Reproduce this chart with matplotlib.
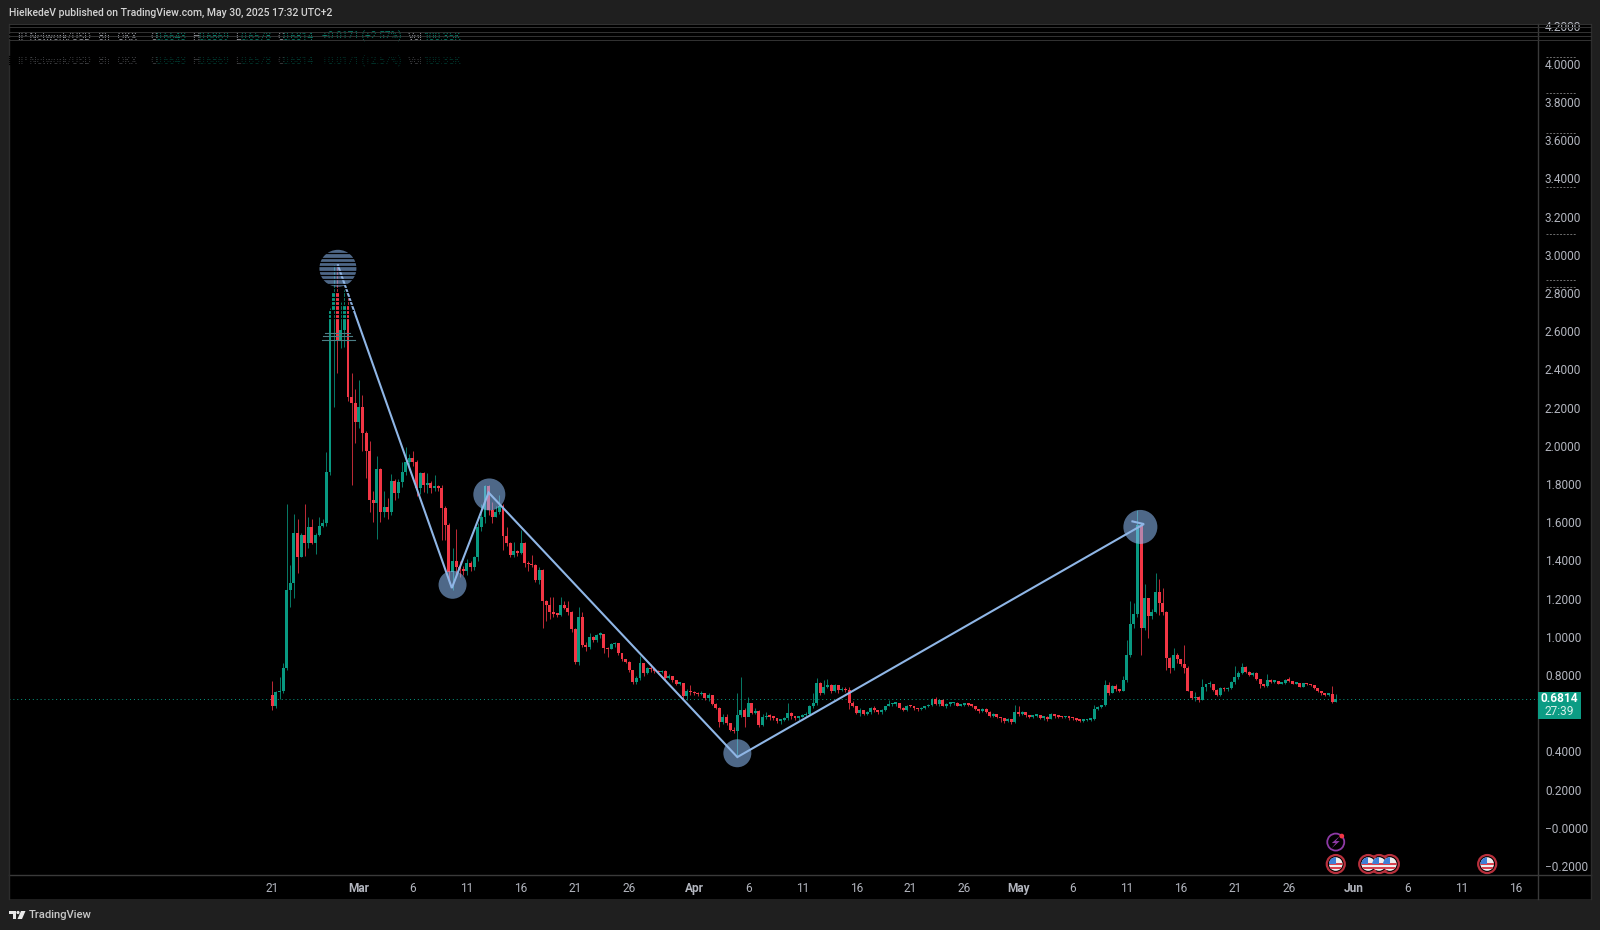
import matplotlib
matplotlib.use("Agg")
import matplotlib.pyplot as plt
from matplotlib.patches import Rectangle, Circle, Polygon
from matplotlib.transforms import Affine2D, IdentityTransform, ScaledTranslation

plt.rcParams['font.family'] = ['Roboto', 'DejaVu Sans']

W, H = 1600, 930
BG = '#1f1f1f'
GREEN = '#089981'
RED = '#f23645'
LINE = '#90bff9'
GRID = '#3a3a3a'
LABEL = '#b2b5be'

# 8h candles, first one is Feb 21
first_open = 0.70
closes = [
    .642, .714, .72, .84, 1.25, 1.285, 1.55, 1.425, 1.537, 1.495,
    1.58, 1.497, 1.537, 1.585, 1.60, 1.87, 2.71, 2.81, 2.56, 2.61,
    2.74, 2.26, 2.23, 2.13, 2.21, 2.07, 1.98, 1.72, 1.705, 1.883,
    1.66, 1.686, 1.66, 1.822, 1.757, 1.817, 1.87, 1.92, 1.94, 1.92,
    1.784, 1.862, 1.80, 1.81, 1.785, 1.795, 1.785, 1.68, 1.59, 1.345,
    1.40, 1.37, 1.36, 1.35, 1.39, 1.37, 1.42, 1.58, 1.634, 1.795,
    1.668, 1.634, 1.66, 1.69, 1.53, 1.495, 1.433, 1.455, 1.445, 1.497,
    1.39, 1.385, 1.38, 1.30, 1.354, 1.19, 1.17, 1.135, 1.125, 1.12,
    1.17, 1.157, 1.135, 1.045, .874, 1.11, .962, .95, 1.003, .99,
    1.015, 1.02, .945, .94, .966, .97, .918, .887, .875, .831,
    .77, .788, .869, .814, .84, .835, .825, .82, .825, .788,
    .80, .78, .76, .765, .695, .722, .715, .71, .705, .71,
    .684, .70, .653, .63, .56, .586, .555, .517, .51, .595,
    .62, .586, .657, .607, .615, .543, .584, .59, .585, .58,
    .565, .57, .58, .605, .59, .58, .585, .595, .60, .64,
    .657, .765, .71, .744, .75, .722, .75, .725, .73, .725,
    .66, .64, .607, .62, .60, .61, .63, .62, .61, .62,
    .642, .652, .655, .657, .63, .62, .645, .64, .63, .625,
    .63, .64, .65, .68, .652, .675, .645, .655, .657, .66,
    .645, .65, .652, .65, .645, .625, .615, .625, .61, .59,
    .60, .585, .578, .565, .575, .56, .613, .60, .61, .595,
    .585, .59, .595, .58, .582, .575, .60, .59, .585, .583,
    .585, .58, .578, .57, .565, .567, .57, .572, .626, .635,
    .648, .752, .71, .747, .73, .722, .779, .909, 1.072, 1.124,
    1.59, 1.05, 1.207, 1.113, 1.136, 1.24, 1.18, 1.136, .893, .84,
    .909, .887, .862, .84, .722, .684, .69, .675, .744, .755,
    .76, .726, .70, .735, .73, .735, .768, .793, .817, .848,
    .822, .805, .815, .784, .757, .745, .779, .77, .772, .76,
    .765, .78, .775, .76, .762, .742, .762, .755, .75, .735,
    .72, .71, .70, .705, .665, .6814,
]
highs = [
    .775, .72, .796, .87, 1.70, 1.38, 1.65, 1.62, 1.55, 1.70,
    1.63, 1.62, 1.55, 1.63, 1.62, 1.974, 2.726, 2.95, 2.95, 2.76,
    2.82, 2.78, 2.385, 2.30, 2.35, 2.27, 2.08, 2.03, 1.77, 1.95,
    1.89, 1.77, 1.73, 1.857, 1.83, 1.83, 1.92, 2.0, 1.96, 1.98,
    1.93, 1.87, 1.87, 1.86, 1.82, 1.85, 1.80, 1.80, 1.69, 1.60,
    1.47, 1.57, 1.40, 1.375, 1.41, 1.40, 1.43, 1.60, 1.70, 1.80,
    1.80, 1.71, 1.69, 1.747, 1.70, 1.58, 1.50, 1.50, 1.46, 1.564,
    1.50, 1.40, 1.433, 1.385, 1.37, 1.36, 1.20, 1.215, 1.215, 1.13,
    1.215, 1.19, 1.19, 1.14, 1.05, 1.162, 1.137, .98, 1.024, 1.01,
    1.02, 1.03, 1.02, .95, .97, .98, .96, .92, .89, .88,
    .83, .80, .904, .87, .845, .86, .84, .83, .83, .83,
    .81, .80, .78, .77, .765, .73, .752, .72, .715, .72,
    .71, .71, .70, .66, .635, .60, .60, .555, .53, .71,
    .795, .63, .69, .66, .63, .62, .60, .61, .60, .59,
    .58, .575, .585, .66, .61, .59, .59, .60, .61, .65,
    .71, .788, .77, .78, .785, .76, .76, .75, .74, .74,
    .743, .67, .64, .63, .62, .615, .635, .645, .62, .625,
    .645, .675, .66, .66, .66, .635, .65, .65, .64, .63,
    .635, .645, .655, .685, .69, .68, .68, .66, .66, .665,
    .665, .655, .655, .655, .65, .645, .625, .63, .63, .615,
    .605, .60, .585, .58, .58, .575, .648, .64, .615, .61,
    .595, .595, .60, .595, .585, .59, .605, .60, .59, .59,
    .59, .585, .585, .58, .57, .57, .575, .58, .648, .64,
    .65, .778, .77, .75, .755, .73, .80, .988, 1.19, 1.18,
    1.67, 1.60, 1.28, 1.21, 1.15, 1.337, 1.306, 1.26, 1.14, .90,
    .945, .92, .88, .961, .85, .72, .717, .695, .784, .76,
    .775, .76, .73, .74, .74, .74, .775, .852, .825, .867,
    .85, .825, .82, .82, .785, .76, .81, .785, .78, .775,
    .77, .785, .795, .775, .77, .765, .765, .765, .76, .745,
    .735, .715, .71, .71, .745, .705,
]
lows = [
    .62, .63, .68, .71, .83, 1.16, 1.21, 1.34, 1.42, 1.43,
    1.47, 1.49, 1.44, 1.53, 1.58, 1.585, 1.85, 2.21, 2.385, 2.516,
    2.52, 2.24, 1.80, 2.02, 2.10, 1.98, 1.836, 1.66, 1.607, 1.517,
    1.607, 1.633, 1.62, 1.64, 1.72, 1.73, 1.79, 1.85, 1.88, 1.90,
    1.74, 1.75, 1.765, 1.76, 1.76, 1.77, 1.77, 1.51, 1.51, 1.285,
    1.25, 1.32, 1.32, 1.33, 1.33, 1.35, 1.355, 1.40, 1.56, 1.60,
    1.64, 1.60, 1.63, 1.65, 1.46, 1.48, 1.42, 1.42, 1.43, 1.44,
    1.37, 1.35, 1.37, 1.29, 1.28, 1.05, 1.085, 1.10, 1.11, 1.11,
    1.115, 1.15, 1.12, 1.03, .86, .857, .95, .93, .94, .98,
    .98, 1.0, .92, .90, .94, .95, .91, .88, .865, .82,
    .76, .76, .78, .80, .81, .82, .815, .81, .815, .78,
    .785, .77, .75, .75, .68, .675, .70, .70, .695, .70,
    .675, .67, .65, .625, .534, .55, .545, .51, .50, .377,
    .585, .53, .60, .60, .60, .53, .54, .575, .57, .57,
    .555, .55, .565, .57, .575, .57, .57, .585, .59, .595,
    .63, .65, .70, .705, .735, .71, .715, .71, .72, .715,
    .625, .635, .60, .59, .595, .595, .60, .61, .60, .60,
    .615, .64, .645, .645, .625, .615, .615, .635, .62, .615,
    .62, .625, .635, .64, .65, .645, .64, .63, .645, .65,
    .64, .64, .645, .645, .635, .62, .605, .61, .605, .585,
    .585, .58, .56, .555, .56, .55, .555, .59, .595, .585,
    .58, .58, .585, .575, .57, .565, .575, .58, .58, .58,
    .58, .57, .57, .565, .56, .56, .565, .565, .57, .62,
    .63, .645, .70, .71, .72, .715, .72, .77, .90, 1.05,
    1.11, .909, 1.04, .997, 1.10, 1.13, 1.12, 1.12, .83, .814,
    .83, .87, .85, .814, .72, .68, .67, .665, .675, .72,
    .74, .72, .695, .695, .72, .72, .73, .76, .785, .81,
    .815, .80, .80, .78, .736, .74, .74, .765, .765, .755,
    .755, .76, .77, .755, .755, .74, .74, .75, .745, .73,
    .715, .70, .695, .695, .66, .665,
]

# hand drawn zigzag on the chart (candle number, price)
zigzag_idx = [18.2, 49.8, 60, 129, 241.8, 238.6]
zigzag_price = [2.95, 1.26, 1.76, 0.375, 1.595, 1.609]
circle_idx = [18.2, 50, 60.2, 129, 240.8]
circle_price = [2.934, 1.277, 1.75, 0.395, 1.58]
circle_radius = [18.5, 14, 16, 14, 17]

# x tick positions are days after Feb 21
tick_days = [0, 8, 13, 18, 23, 28, 33, 39, 44, 49, 54, 59, 64, 69, 74, 79, 84, 89, 94, 100, 105, 110, 115]
tick_names = ['21', 'Mar', '6', '11', '16', '21', '26', 'Apr', '6', '11', '16', '21', '26',
              'May', '6', '11', '16', '21', '26', 'Jun', '6', '11', '16']
price_ticks = [4.2, 4.0, 3.8, 3.6, 3.4, 3.2, 3.0, 2.8, 2.6, 2.4, 2.2, 2.0, 1.8, 1.6, 1.4, 1.2, 1.0, 0.8, 0.6, 0.4, 0.2, 0.0, -0.2]
hidden_ticks = [0.6]  # covered by the price tag

last_price = 0.6814
flag_idx = [337, 310, 307, 304, 295]
event_price = -0.185
bolt_idx = 295
bolt_price = -0.07

legend_pieces = [
    ('IP Network/USD · 8h · OKX', 18, LABEL), ('O', 150, LABEL), ('0.6643', 155, GREEN),
    ('H', 192, LABEL), ('0.6869', 198, GREEN), ('L', 235, LABEL), ('0.6578', 240, GREEN),
    ('C', 277, LABEL), ('0.6814', 282, GREEN), ('+0.0171 (+2.57%)', 322, GREEN),
    ('Vol', 408, LABEL), ('100.35K', 423, GREEN),
]

fig = plt.figure(figsize=(W / 100, H / 100), dpi=100, facecolor=BG)
px = Affine2D().scale(1 / W, -1 / H).translate(0, 1) + fig.transFigure


def add_rect(x0, y0, x1, y1, color, z=0):
    fig.add_artist(Rectangle((x0, y0), x1 - x0, y1 - y0, transform=px, facecolor=color, edgecolor='none', zorder=z))


def add_line(x0, y0, x1, y1, color, lw=1, z=5, **kw):
    fig.add_artist(plt.Line2D([x0, x1], [y0, y1], transform=px, color=color, lw=lw, zorder=z, **kw))


def add_text(x, y, s, color=LABEL, size=8.5, **kw):
    kw.setdefault('va', 'center')
    fig.text(x / W, 1 - y / H, s, color=color, fontsize=size, **kw)


add_rect(9, 24, 1591, 899, 'black', -1)

ax = fig.add_axes([9 / W, 1 - 875 / H, (1538 - 9) / W, (875 - 24) / H])
ax.set_facecolor('black')
ax.set_xlim(-73.04, 351.1)
ax.set_ylim(-0.2424, 4.2131)
for s in ax.spines.values():
    s.set_visible(False)

opens = [first_open] + closes[:-1]
idx = list(range(len(closes)))
colors = [GREEN if c >= o else RED for o, c in zip(opens, closes)]
ax.vlines(idx, lows, highs, colors=colors, lw=0.7, alpha=0.8, zorder=2)
ax.bar(idx, [max(abs(c - o), 0.008) for o, c in zip(opens, closes)],
       bottom=[min(o, c) for o, c in zip(opens, closes)], width=0.82, color=colors, linewidth=0, zorder=3)

ax.axhline(last_price, color=GREEN, lw=0.7, ls=(0, (1, 3)), zorder=1)

# blobs sit on top of the candles, the line on top of those
ax.scatter(circle_idx, circle_price, s=[(2 * r * 0.72) ** 2 for r in circle_radius],
           color=LINE, alpha=0.55, linewidths=0, zorder=4)
ax.plot(zigzag_idx, zigzag_price, color='#8fb6e6', lw=1.5, zorder=5, solid_joinstyle='miter')

ax.yaxis.tick_right()
shown = [p for p in price_ticks if p not in hidden_ticks]
ax.set_yticks(shown)
ax.set_yticklabels([f'{p:.4f}' if p > 0 else f'\u2212{abs(p):.4f}' for p in shown])
ax.tick_params(axis='y', length=0, pad=5, labelcolor=LABEL, labelsize=8.6)
up_1px = ScaledTranslation(0, 1 / 100, fig.dpi_scale_trans)
for lab in ax.get_yticklabels():
    lab.set_transform(lab.get_transform() + up_1px)
ax.set_xticks([d * 3 for d in tick_days])
ax.set_xticklabels(tick_names)
ax.tick_params(axis='x', length=0, pad=5, labelcolor=LABEL, labelsize=8.6)
for lab in ax.get_xticklabels():
    if lab.get_text() in ('Mar', 'Apr', 'May', 'Jun'):
        lab.set_fontweight('bold')

# axis frame
add_line(1538, 24, 1538, 899, GRID)
add_line(9, 875, 1591, 875, GRID)
add_line(9, 24, 9, 899, '#2c2c2c')
add_line(1591, 24, 1591, 899, '#2c2c2c')

# scan line damage along the top of the picture
for y in [24.5, 27, 32, 36, 40.5]:
    add_line(9, y, 1591, y, '#333333', lw=0.7, z=6)
for y in [57, 93, 133, 187, 234, 280, 287]:
    add_line(1546, y, 1576, y, '#6f6f6f', lw=0.7, z=6, ls=(0, (2, 1.5)))

# same damage over the first peak
y = 253.3
while y < 320:
    half = 19 if y < 287 else 15
    add_line(337.7 - half, y, 337.7 + half, y, 'black', lw=0.9, z=7)
    y += 4.33
for y, x0, x1 in [(332.7, 325, 350), (336, 323, 352), (340, 321.7, 355)]:
    add_line(x0, y, x1, y, '#4d7f86', lw=0.8, z=8)

# price tag
add_rect(1538, 692, 1581, 718.7, '#0c9c84', 6)
add_text(1559.5, 699, '0.6814', 'white', 8.6, ha='center', fontweight='bold', zorder=7)
add_text(1559.5, 711, '27:39', '#d8f0ea', 8.6, ha='center', zorder=7)

# header and footer
add_text(9, 13, 'HielkedeV published on TradingView.com, May 30, 2025 17:32 UTC+2', '#d4d4d4', 7.47, fontweight='medium')
add_text(29, 915, 'TradingView', '#c8c8c8', 8.1, fontweight='medium')
fig.add_artist(Polygon([(9, 911), (16, 911), (16, 919), (12.5, 919), (12.5, 914), (9, 914)],
                       transform=px, facecolor='#e8e8e8', edgecolor='none'))
fig.add_artist(Circle((18, 912.5), 1.6, transform=px, facecolor='#e8e8e8', edgecolor='none'))
fig.add_artist(Polygon([(21, 911), (25.5, 911), (22, 919), (17.5, 919)],
                       transform=px, facecolor='#e8e8e8', edgecolor='none'))

# legend, printed twice with the second copy almost gone
for y, alpha in [(36.5, 0.8), (61, 0.4)]:
    for s, x, c in legend_pieces:
        add_text(x, y, s, c, 7.3, alpha=alpha, zorder=4)
for y in [34.5, 38.5]:
    add_line(9, y, 470, y, 'black', lw=0.7, z=5)
y = 56.5
while y < 66:
    add_line(9, y, 470, y, 'black', lw=0.8, z=5)
    y += 2

# calendar markers
disp = IdentityTransform()


def draw_flag(i, p):
    cx, cy = ax.transData.transform((i, p))
    ring = Circle((cx, cy), 9, transform=disp, facecolor='black', edgecolor='#b8303c', lw=1.6, zorder=9)
    ax.add_artist(ring)
    inner = Circle((cx, cy), 6.8, transform=disp, facecolor='#eeeeee', edgecolor='none', zorder=10)
    ax.add_artist(inner)
    for dy in (-4, 0.2):
        stripe = Rectangle((cx - 7, cy + dy - 1.2), 14, 2.2, transform=disp, facecolor='#d9424e', edgecolor='none', zorder=11)
        ax.add_artist(stripe)
        stripe.set_clip_path(inner)
    blue = Rectangle((cx - 7, cy), 7, 7, transform=disp, facecolor='#3f7fd6', edgecolor='none', zorder=12)
    ax.add_artist(blue)
    blue.set_clip_path(inner)


for i in flag_idx:
    draw_flag(i, event_price)

bx, by = ax.transData.transform((bolt_idx, bolt_price))
ax.add_artist(Circle((bx, by), 8.5, transform=disp, facecolor='black', edgecolor='#8e3aa6', lw=1.3, zorder=9))
ax.add_artist(Polygon([(bx + 4, by + 6), (bx - 4, by - 1), (bx, by - 1), (bx - 4, by - 6), (bx + 4, by + 1), (bx, by + 1)],
                      transform=disp, facecolor='#8e3aa6', edgecolor='none', zorder=10))
ax.add_artist(Circle((bx + 6, by + 6), 2.4, transform=disp, facecolor='#f23645', edgecolor='none', zorder=11))

fig.savefig('out.png', dpi=100, facecolor=BG)
